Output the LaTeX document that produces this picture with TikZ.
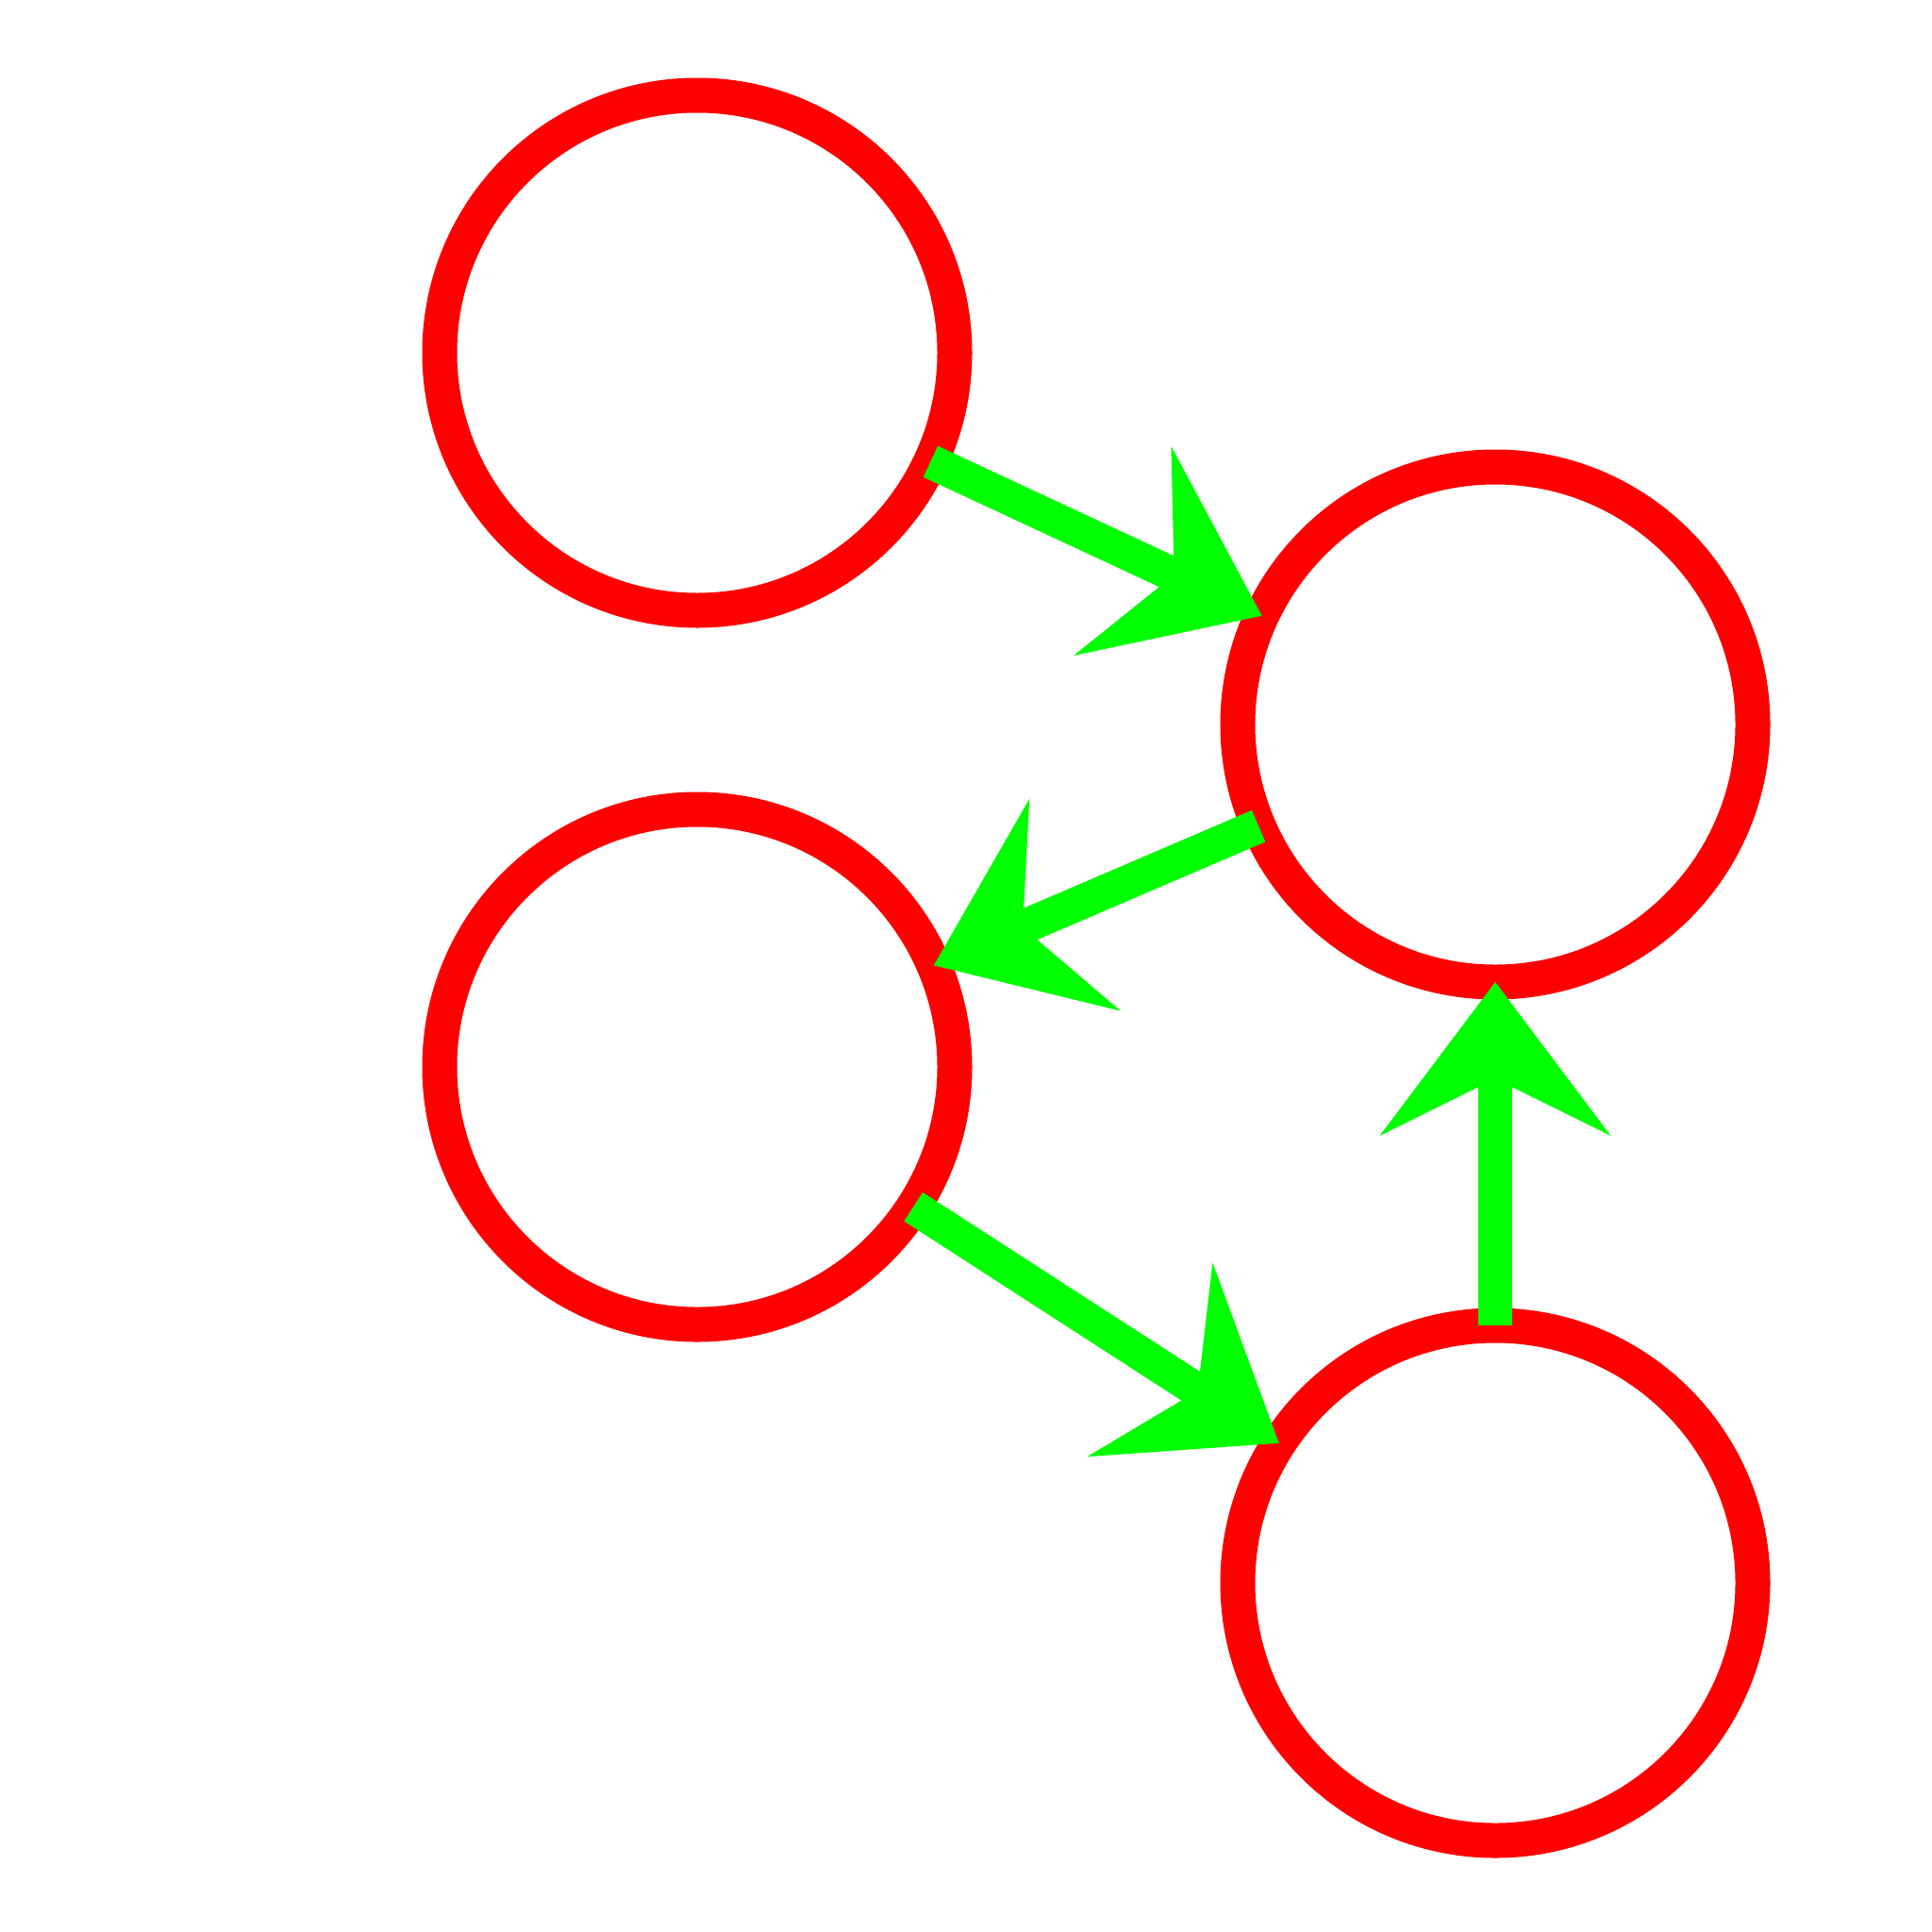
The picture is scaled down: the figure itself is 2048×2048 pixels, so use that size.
\documentclass[tikz,border=0pt]{standalone}
\usetikzlibrary{arrows.meta}
\definecolor{ringred}{RGB}{255,0,0}
\definecolor{arrowgreen}{RGB}{0,255,0}
\tikzset{
  ring/.style={circle, draw=ringred, line width=37pt, minimum size=546pt, inner sep=0pt, outer sep=0pt},
  link/.style={draw=arrowgreen, line width=36.4pt,
    -{Stealth[length=163pt, width=245pt, inset=60.5pt, line width=0pt, fill=arrowgreen]}}
}
\begin{document}
\begin{tikzpicture}[x=1pt, y=-1pt]
\useasboundingbox (0,0) rectangle (2048,2048);
\fill[white] (0,0) rectangle (2048,2048);
\node[ring] (c1) at (739,374) {};
\node[ring] (c2) at (1585,768) {};
\node[ring] (c3) at (739,1131) {};
\node[ring] (c4) at (1585,1678) {};
\draw[link] (c1) -- (c2);
\draw[link] (c2) -- (c3);
\draw[link] (c3) -- (c4);
\draw[link] (c4) -- (c2);
\end{tikzpicture}
\end{document}
